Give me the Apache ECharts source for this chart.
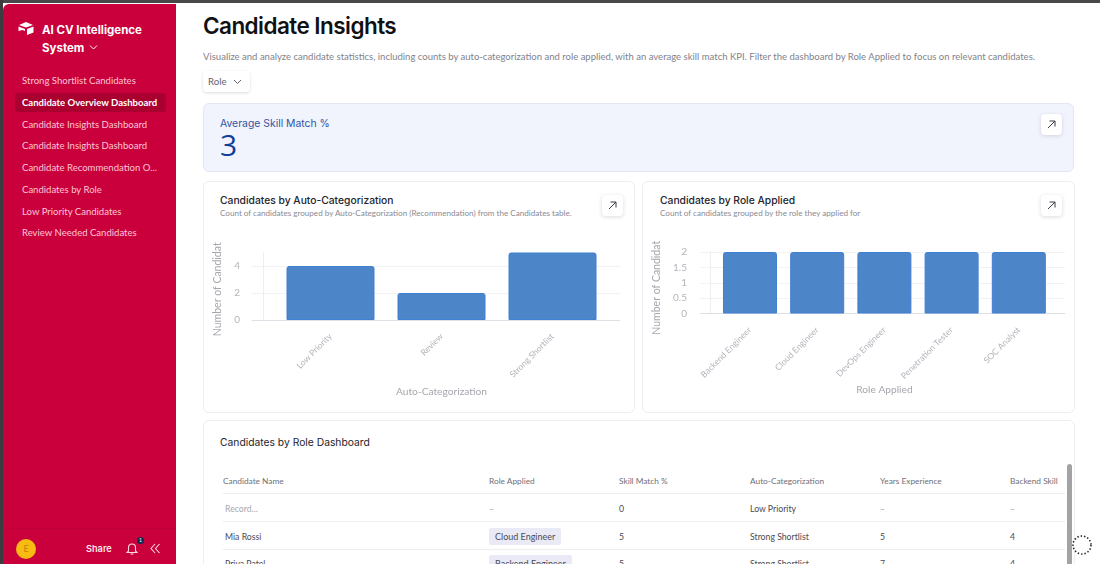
<!DOCTYPE html>
<html>
<head>
<meta charset="utf-8">
<title>Candidate Insights</title>
<script src="https://cdn.jsdelivr.net/npm/echarts@6/dist/echarts.min.js"></script>
<style>
  html, body { margin: 0; padding: 0; width: 1100px; height: 564px; overflow: hidden; background: #fff; font-family: Lato, "Noto Sans", sans-serif; }
  div, span { position: absolute; white-space: nowrap; }
  svg { position: absolute; }
  .card { background: #fff; border: 1px solid #eceef3; border-radius: 6px; box-sizing: border-box; }
  .nav { left: 22px; font-size: 9.55px; color: #ffc4d4; line-height: 14px; }
  .title { font-family: Inter, sans-serif; font-size: 10.3px; font-weight: 500; color: #24242c; line-height: 14px; }
  .sub { font-size: 8.1px; color: #8a8a94; line-height: 10px; }
  .btn { width: 21px; height: 21px; background: #fff; border-radius: 4px; box-shadow: 0 1px 4px rgba(60,60,90,.18); }
  .th { font-size: 8.3px; color: #6f6f78; top: 476px; line-height: 11px; }
  .td { font-size: 8.7px; color: #4a4a52; line-height: 13px; }
  .line { left: 223px; width: 842px; height: 1px; background: #eeeef1; }
  .pill { background: #eaeaf6; border-radius: 2px; padding: 0 6px; height: 17px; line-height: 17px; font-size: 9px; color: #4a4a52; }
</style>
</head>
<body>
<!-- window edge -->
<div style="left:0;top:0;width:1100px;height:3px;background:#48484a"></div>
<div style="left:0;top:0;width:3px;height:564px;background:#3c3c3e"></div>

<!-- sidebar -->
<div style="left:3px;top:4px;width:173px;height:560px;background:#c9003c;border-radius:6px 0 0 0"></div>
<svg style="left:18px;top:22px" width="16" height="14" viewBox="0 0 16 14"><path d="M1 3 L8 0 L15 3 L8 5.5 Z M0.5 4.5 L7 7 V9 L4.5 8 L0.5 9 Z M9 7 L15.5 4.5 V10.5 L9 13 Z" fill="#fff"/></svg>
<div style="left:42px;top:21px;font-family:Inter,sans-serif;font-size:11.5px;font-weight:700;color:#fff;line-height:18px">AI CV Intelligence</div>
<div style="left:42px;top:39px;font-family:Inter,sans-serif;font-size:11.5px;font-weight:700;color:#fff;line-height:18px">System</div>
<svg style="left:89px;top:44px" width="9" height="7" viewBox="0 0 9 7"><path d="M1 1.5 L4.5 5 L8 1.5" fill="none" stroke="#fff" stroke-width="1"/></svg>
<div style="left:15px;top:93px;width:151px;height:19px;background:#aa0030;border-radius:3px"></div>
<div id="navList"></div>
<div style="left:3px;top:528px;width:173px;height:1px;background:#c00038"></div>
<div style="left:16px;top:539px;width:20px;height:20px;border-radius:50%;background:#f7bb12;text-align:center;line-height:20px;font-size:8.5px;font-weight:600;color:#c98a10">E</div>
<div style="left:86px;top:542px;font-family:Inter,sans-serif;font-size:9.2px;font-weight:600;color:#ffe6ec;line-height:14px">Share</div>
<svg style="left:126px;top:542px" width="12" height="13" viewBox="0 0 12 13"><path d="M2.5 9 V5.5 a3.5 3.5 0 0 1 7 0 V9 L11 10.5 H1 Z M4.5 12 H7.5" fill="none" stroke="#ffd4df" stroke-width="1.1"/></svg>
<div style="left:137px;top:537px;width:7px;height:7px;border-radius:50%;background:#16294f;color:#fff;font-size:5px;line-height:7px;text-align:center">1</div>
<svg style="left:150px;top:543px" width="10" height="11" viewBox="0 0 10 11"><path d="M5 1 L1 5.5 L5 10 M9.5 1 L5.5 5.5 L9.5 10" fill="none" stroke="#ffd4df" stroke-width="1.1"/></svg>

<!-- heading -->
<div style="left:203px;top:11px;font-family:Inter,sans-serif;font-size:22.5px;font-weight:600;letter-spacing:-0.55px;color:#111114;line-height:30px">Candidate Insights</div>
<div style="left:203px;top:50px;font-size:9.52px;color:#82828c;line-height:13px">Visualize and analyze candidate statistics, including counts by auto-categorization and role applied, with an average skill match KPI. Filter the dashboard by Role Applied to focus on relevant candidates.</div>
<div style="left:203px;top:71px;width:47px;height:21px;background:#fff;border-radius:4px;box-shadow:0 1px 3px rgba(60,60,90,.18)"></div>
<div style="left:208px;top:75px;font-size:9.6px;color:#62626c;line-height:13px">Role</div>
<svg style="left:233px;top:79px" width="9" height="6" viewBox="0 0 9 6"><path d="M1 1 L4.5 4.5 L8 1" fill="none" stroke="#62626c" stroke-width="1"/></svg>

<!-- KPI -->
<div class="card" style="left:203px;top:103px;width:871px;height:69px;background:#f2f4fd;border-color:#e3e6f3"></div>
<div style="left:220px;top:117px;font-family:Inter,sans-serif;font-size:10.4px;color:#2f55a2;line-height:14px">Average Skill Match %</div>
<div style="left:220px;top:126px;font-family:'Open Sans',sans-serif;font-size:30px;color:#0f3f98;line-height:38px">3</div>
<div class="btn" style="left:1041px;top:114px"></div>
<svg style="left:1047px;top:120px" width="9" height="9" viewBox="0 0 9 9"><path d="M1 8 L8 1 M2.5 1 H8 V6.5" fill="none" stroke="#3c3c44" stroke-width="1"/></svg>

<!-- chart cards -->
<div class="card" style="left:203px;top:181px;width:432px;height:232px"></div>
<div class="title" style="left:220px;top:193px">Candidates by Auto-Categorization</div>
<div class="sub" style="left:220px;top:208px">Count of candidates grouped by Auto-Categorization (Recommendation) from the Candidates table.</div>
<div class="btn" style="left:602px;top:195px"></div>
<svg style="left:608px;top:201px" width="9" height="9" viewBox="0 0 9 9"><path d="M1 8 L8 1 M2.5 1 H8 V6.5" fill="none" stroke="#3c3c44" stroke-width="1"/></svg>
<div id="chartCategory" style="left:204px;top:230px;width:430px;height:180px"></div>

<div class="card" style="left:642px;top:181px;width:433px;height:232px"></div>
<div class="title" style="left:660px;top:193px">Candidates by Role Applied</div>
<div class="sub" style="left:660px;top:208px">Count of candidates grouped by the role they applied for</div>
<div class="btn" style="left:1041px;top:195px"></div>
<svg style="left:1047px;top:201px" width="9" height="9" viewBox="0 0 9 9"><path d="M1 8 L8 1 M2.5 1 H8 V6.5" fill="none" stroke="#3c3c44" stroke-width="1"/></svg>
<div id="chartRole" style="left:643px;top:230px;width:431px;height:180px"></div>

<!-- table card -->
<div class="card" style="left:203px;top:420px;width:872px;height:160px"></div>
<div class="title" style="left:220px;top:435px;font-weight:400">Candidates by Role Dashboard</div>
<div id="tableBox"></div>
<div style="left:1067px;top:464px;width:5px;height:100px;background:#a3a3a6;border-radius:3px 3px 0 0"></div>
<svg style="left:1071px;top:534px" width="22" height="22" viewBox="0 0 22 22"><circle cx="11" cy="11" r="9" fill="#fff" stroke="#222" stroke-width="1.6" stroke-dasharray="1.4 2"/></svg>

<script type="text/javascript">
var navItems = ['Strong Shortlist Candidates', 'Candidate Overview Dashboard', 'Candidate Insights Dashboard', 'Candidate Insights Dashboard',
  'Candidate Recommendation O...', 'Candidates by Role', 'Low Priority Candidates', 'Review Needed Candidates'];
var navTops = [74, 95.5, 117.5, 139, 161, 182.5, 204.5, 226];

var categoryNames = ['Low Priority', 'Review', 'Strong Shortlist'];
var categoryCounts = [4, 2, 5];
var roleNames = ['Backend Engineer', 'Cloud Engineer', 'DevOps Engineer', 'Penetration Tester', 'SOC Analyst'];
var roleCounts = [2, 2, 2, 2, 2];

var tableHeads = ['Candidate Name', 'Role Applied', 'Skill Match %', 'Auto-Categorization', 'Years Experience', 'Backend Skill'];
var tableLefts = [223, 489, 619, 750, 880, 1010];
var tableRows = [
  ['Record...', '–', '0', 'Low Priority', '–', '–'],
  ['Mia Rossi', 'Cloud Engineer', '5', 'Strong Shortlist', '5', '4'],
  ['Priya Patel', 'Backend Engineer', '5', 'Strong Shortlist', '7', '4']
];
var rowTops = [501.5, 529.5, 556.5];
var lineTops = [493, 521, 549];

// sidebar menu
var navHtml = '';
for (var i = 0; i < navItems.length; i++) {
  var active = i == 1 ? 'color:#fff;font-weight:700;' : '';
  navHtml += '<div class="nav" style="top:' + navTops[i] + 'px;' + active + '">' + navItems[i] + '</div>';
}
document.getElementById('navList').innerHTML = navHtml;

// table, the last row runs off the window
var tableHtml = '';
for (var c = 0; c < tableHeads.length; c++) {
  tableHtml += '<div class="th" style="left:' + tableLefts[c] + 'px">' + tableHeads[c] + '</div>';
}
for (var l = 0; l < lineTops.length; l++) {
  tableHtml += '<div class="line" style="top:' + lineTops[l] + 'px"></div>';
}
for (var r = 0; r < tableRows.length; r++) {
  for (var k = 0; k < tableRows[r].length; k++) {
    var text = tableRows[r][k];
    if (k == 1 && text != '–') {
      tableHtml += '<div class="pill" style="left:' + tableLefts[k] + 'px;top:' + (rowTops[r] - 2) + 'px">' + text + '</div>';
    } else {
      var faded = (text == '–' || text == 'Record...') ? 'color:#a8a8b0;' : '';
      tableHtml += '<div class="td" style="left:' + (tableLefts[k] + (k == 0 ? 2 : 0)) + 'px;top:' + rowTops[r] + 'px;' + faded + '">' + text + '</div>';
    }
  }
}
document.getElementById('tableBox').innerHTML = tableHtml;

// grid 0 carries the long axis lines and ticks, grid 1 the narrower band of bars
function barOption(cfg) {
  var grey = '#b4b4bc';
  return {
    animation: false,
    textStyle: { fontFamily: 'Lato, sans-serif' },
    grid: [
      { left: cfg.lineLeft, width: cfg.lineWidth, top: cfg.top, height: cfg.height },
      { left: cfg.barLeft, width: cfg.barAreaWidth, top: cfg.top, height: cfg.height }
    ],
    xAxis: [
      { type: 'category', gridIndex: 0, data: cfg.names, axisLabel: { show: false }, axisTick: { show: false },
        axisLine: { lineStyle: { color: '#dfdfe6' } } },
      { type: 'category', gridIndex: 1, data: cfg.names, axisTick: { show: false }, axisLine: { show: false },
        axisLabel: { rotate: 45, interval: 0, margin: cfg.labelMargin, fontSize: 8.6, color: grey },
        name: cfg.xName, nameLocation: 'middle', nameGap: cfg.xNameGap,
        nameTextStyle: { fontSize: 10.2, color: '#a6a6ae' } }
    ],
    yAxis: [
      { type: 'value', gridIndex: 0, min: 0, max: cfg.max, interval: cfg.interval, offset: cfg.axisOffset,
        axisLine: { show: true, lineStyle: { color: '#eeeef2' } }, axisTick: { show: false },
        axisLabel: { margin: cfg.tickMargin, fontSize: 10, color: grey, showMaxLabel: cfg.showTop },
        splitLine: { showMaxLine: cfg.showTop, lineStyle: { color: '#f1f1f6' } },
        name: 'Number of Candidat', nameLocation: 'middle', nameGap: cfg.yNameGap, nameRotate: 90,
        nameTextStyle: { fontSize: 10.5, color: '#a6a6ae', padding: [0, cfg.yNamePad, 0, 0] } },
      { type: 'value', gridIndex: 1, min: 0, max: cfg.max, show: false }
    ],
    series: [{
      type: 'bar', xAxisIndex: 1, yAxisIndex: 1, data: cfg.values, barWidth: cfg.barWidth,
      itemStyle: { color: '#4d85c9', borderColor: '#3f80d4', borderWidth: 1, borderRadius: [2, 2, 0, 0] }
    }]
  };
}

var chartCategory = echarts.init(document.getElementById('chartCategory'));
chartCategory.setOption(barOption({
  names: categoryNames, values: categoryCounts, xName: 'Auto-Categorization',
  lineLeft: 48, lineWidth: 368, barLeft: 71, barAreaWidth: 333, top: 22.5, height: 67.5,
  max: 5, interval: 2, showTop: false, axisOffset: -11, tickMargin: 23, yNameGap: 27, yNamePad: 6,
  labelMargin: 15, xNameGap: 67, barWidth: 88
}));

var chartRole = echarts.init(document.getElementById('chartRole'));
chartRole.setOption(barOption({
  names: roleNames, values: roleCounts, xName: 'Role Applied',
  lineLeft: 57, lineWidth: 365, barLeft: 73.4, barAreaWidth: 336, top: 22, height: 61.5,
  max: 2, interval: 0.5, showTop: true, axisOffset: -10, tickMargin: 23, yNameGap: 32, yNamePad: 10,
  labelMargin: 15, xNameGap: 71, barWidth: 54
}));
</script>
</body>
</html>
